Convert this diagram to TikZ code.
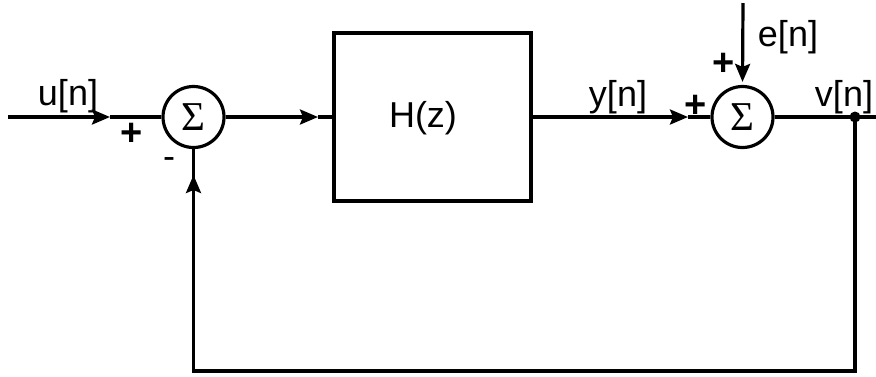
\documentclass[tikz,border=0pt]{standalone}
\usepackage{fontspec}
\setmainfont{Liberation Sans}
\newfontfamily\sigfont{Liberation Serif}
\usetikzlibrary{arrows.meta}
\newcommand{\sigsym}{{\sigfont\fontsize{41}{41}\selectfont Σ}}
\begin{document}
\begin{tikzpicture}[x=1pt,y=-1pt, line width=3.2pt,
  sumnode/.style={draw, circle, minimum size=61pt, inner sep=0pt},
  blk/.style={draw, minimum width=197pt, minimum height=168pt, inner sep=0pt},
  lbl/.style={font=\fontsize{36}{36}\selectfont, inner sep=0pt},
  sgn/.style={font=\fontsize{38}{38}\selectfont\bfseries, inner sep=0pt},
  arr/.style={arrows={-Stealth[length=18pt,width=15pt,inset=3pt]}},
  dotnode/.style={circle, fill, inner sep=0pt, minimum size=11pt},
]
\useasboundingbox (0,0) rectangle (876,376);
\node[sumnode] (s1) at (193.5,117) {\sigsym};
\node[blk] (h) at (432.5,117) {};
\node[lbl] (hl) at (423,118) {H(z)};
\node[sumnode] (s2) at (742.5,117) {\sigsym};
\node[dotnode] (dot) at (855,117) {};
\coordinate (in) at (8,117);
\coordinate (out) at (876,117);
\coordinate (en) at (743,3);
\coordinate (a1) at (110,117);
\coordinate (a2) at (318,117);
\coordinate (a3) at (688,117);
\coordinate (a4) at (193.5,175);
\coordinate (br) at (855,371);
\coordinate (bl) at (193.5,371);
% connectors
\draw[arr] (in) -- (a1);
\draw (a1) -- (s1.west);
\draw[arr] (s1.east) -- (a2);
\draw (a2) -- (h.west);
\draw[arr] (h.east) -- (a3);
\draw (a3) -- (s2.west);
\draw (s2.east) -- (out);
\draw[arr, shorten >=3pt] (en) -- (s2.north);
\draw[line join=miter] (dot.center) -- (br) -- (bl) -- (a4);
\draw[arr] (bl) -- (a4);
\draw (a4) -- (s1.south);
% labels
\node[lbl] (lu) at (68,96) {u[n]};
\node[lbl] (ly) at (618,97) {y[n]};
\node[lbl] (lv) at (844,97) {v[n]};
\node[lbl] (le) at (788,37) {e[n]};
\node[sgn] (p1) at (132,134) {+};
\node[lbl] (m1) at (169,163) {-};
\node[sgn] (p2) at (696,106) {+};
\node[sgn] (p3) at (724,64) {+};
\end{tikzpicture}
\end{document}
